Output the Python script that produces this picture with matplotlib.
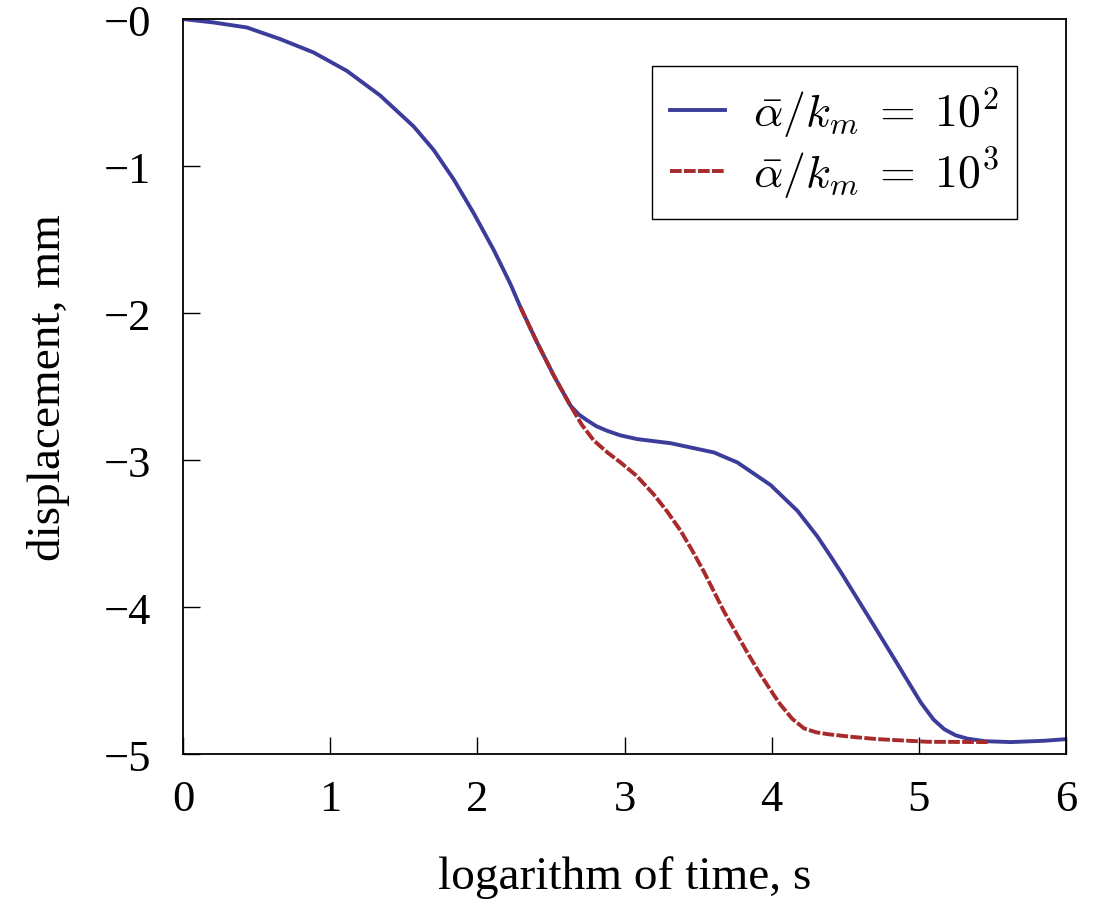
import matplotlib
matplotlib.use('Agg')
import matplotlib.pyplot as plt

# values
blue_x = [0.0, 0.206, 0.433, 0.66, 0.887, 1.113, 1.34, 1.567, 1.703, 1.839, 1.975,
          2.111, 2.224, 2.293, 2.406, 2.52, 2.633, 2.69, 2.744, 2.81, 2.88, 2.973,
          3.086, 3.313, 3.608, 3.767, 3.993, 4.175, 4.311, 4.401, 4.469, 4.605,
          4.673, 4.832, 5.014, 5.1, 5.172, 5.25, 5.331, 5.45, 5.626, 5.853, 6.0]
blue_y = [0.0, -0.023, -0.057, -0.136, -0.227, -0.352, -0.52, -0.73, -0.89, -1.09, -1.32,
          -1.57, -1.80, -1.96, -2.2, -2.426, -2.63, -2.69, -2.728, -2.77, -2.8, -2.832,
          -2.857, -2.885, -2.948, -3.016, -3.17, -3.345, -3.52, -3.655, -3.76, -3.98,
          -4.09, -4.35, -4.65, -4.765, -4.83, -4.872, -4.895, -4.912, -4.918, -4.909, -4.898]

red_x = [2.293, 2.406, 2.52, 2.633, 2.71, 2.79, 2.88, 2.973, 3.08, 3.2, 3.29, 3.381,
         3.46, 3.54, 3.676, 3.835, 3.925, 4.016, 4.061, 4.14, 4.22, 4.3, 4.379, 4.55,
         4.719, 5.059, 5.467]
red_y = [-1.96, -2.2, -2.426, -2.63, -2.76, -2.865, -2.945, -3.016, -3.105, -3.235, -3.35, -3.48,
         -3.615, -3.76, -4.03, -4.31, -4.46, -4.6, -4.665, -4.76, -4.825, -4.851, -4.864, -4.883,
         -4.898, -4.916, -4.918]

x_ticks = [0, 1, 2, 3, 4, 5, 6]
y_ticks = [0, -1, -2, -3, -4, -5]
y_tick_labels = ['\u22120', '\u22121', '\u22122', '\u22123', '\u22124', '\u22125']

plt.rcParams['font.family'] = ['Liberation Serif', 'DejaVu Serif']
plt.rcParams['mathtext.fontset'] = 'cm'

fig = plt.figure(figsize=(10.99, 9.12), dpi=100)
ax = fig.add_axes([0.1665, 0.172, 0.8035, 0.806])

ax.plot(blue_x, blue_y, color='#3c3c9a', linewidth=2.8, solid_joinstyle='round',
        label=r'$\bar{\alpha}/k_m \;=\; 10^2$')
ax.plot(red_x, red_y, color='#a82a2a', linewidth=2.8, linestyle=(0, (3, 0.6)),
        label=r'$\bar{\alpha}/k_m \;=\; 10^3$')

ax.set_xlim(0, 6)
ax.set_ylim(-5, 0)
ax.set_xticks(x_ticks)
ax.set_yticks(y_ticks)
ax.set_yticklabels(y_tick_labels)
ax.tick_params(direction='in', length=12, width=1, labelsize=32,
               top=False, right=False)
ax.tick_params(axis='x', pad=18)
ax.tick_params(axis='y', pad=23)

for s in ax.spines.values():
    s.set_linewidth(1.3)

ax.set_xlabel('logarithm of time, s', fontsize=34, labelpad=26)
ax.set_ylabel('displacement, mm', fontsize=34, labelpad=24)

leg = ax.legend(loc='upper right', bbox_to_anchor=(0.944, 0.936), borderaxespad=0,
                fontsize=33, fancybox=False, framealpha=1, edgecolor='black',
                handlelength=1.2, handletextpad=0.6, borderpad=0.4, labelspacing=0.12)
leg.get_frame().set_linewidth(1.0)

fig.savefig('out.png', dpi=100)
